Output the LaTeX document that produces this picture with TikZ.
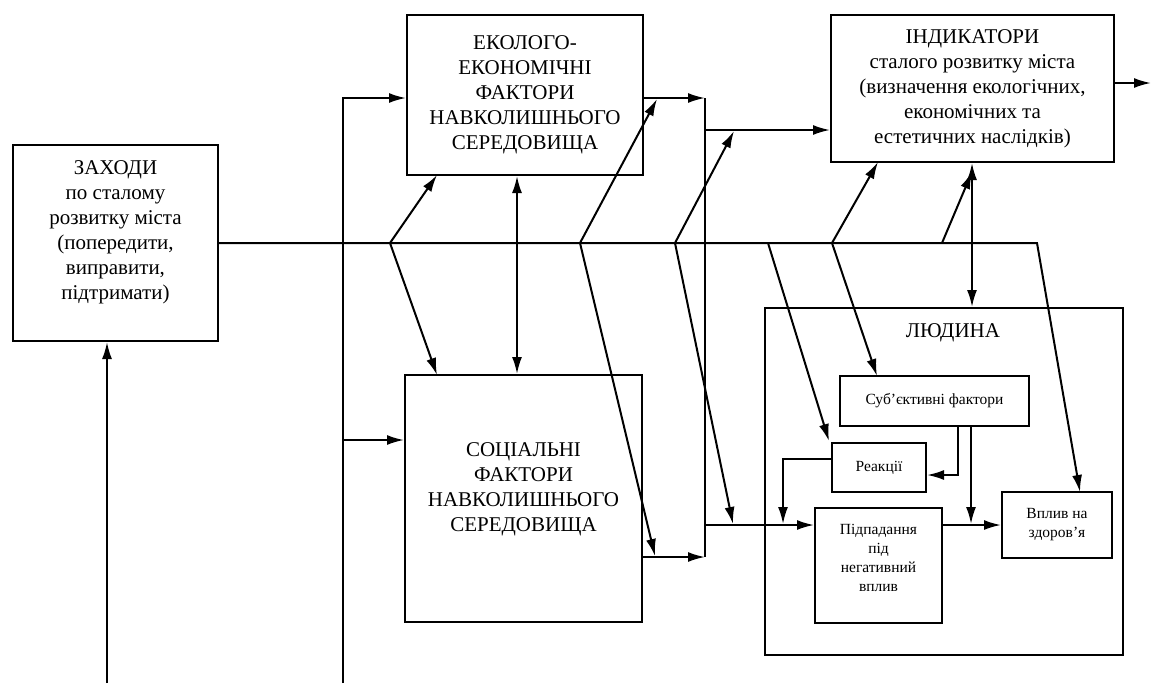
\documentclass[tikz,border=0pt]{standalone}
\usepackage{fontspec}
\setmainfont{Liberation Serif}
\usetikzlibrary{arrows.meta}
\begin{document}
\begin{tikzpicture}[x=1pt,y=-1pt,
  box/.style={draw, line width=2pt, inner sep=0pt, align=center},
  bigt/.style={font=\fontsize{21}{25}\selectfont, align=center, inner sep=0pt},
  smallt/.style={font=\fontsize{15.5}{19}\selectfont, align=center, inner sep=0pt},
  ln/.style={line width=2pt},
  arr/.style={ln, -{Latex[length=17pt,width=10pt]}},
  darr/.style={ln, {Latex[length=17pt,width=10pt]}-{Latex[length=17pt,width=10pt]}}]
\useasboundingbox (0,0) rectangle (1151,683);
\fill[white] (0,0) rectangle (1151,683);
% boxes
\node[box, minimum width=205pt, minimum height=196pt] (zak) at (115.5,243) {};
\node[bigt] (zakt) at (115.5,232) {ЗАХОДИ\\по сталому\\розвитку міста\\(попередити,\\виправити,\\підтримати)};
\node[box, bigt, draw, line width=2pt, minimum width=236pt, minimum height=160pt] (eko) at (525,95) {ЕКОЛОГО-\\ЕКОНОМІЧНІ\\ФАКТОРИ\\НАВКОЛИШНЬОГО\\СЕРЕДОВИЩА};
\node[box, minimum width=237pt, minimum height=247pt] (soc) at (523.5,498.5) {};
\node[bigt] (soct) at (523.5,489) {СОЦІАЛЬНІ\\ФАКТОРИ\\НАВКОЛИШНЬОГО\\СЕРЕДОВИЩА};
\node[box, bigt, draw, line width=2pt, minimum width=283pt, minimum height=147pt] (ind) at (972.5,88.5) {ІНДИКАТОРИ\\сталого розвитку міста\\(визначення екологічних,\\економічних та\\естетичних наслідків)};
\node[box, minimum width=358pt, minimum height=347pt] (lyud) at (944,481.5) {};
\node[bigt] (lyudt) at (953,333) {ЛЮДИНА};
\node[box, smallt, draw, line width=2pt, minimum width=189pt, minimum height=50pt] (sub) at (934.5,401) {Суб’єктивні фактори};
\node[box, smallt, draw, line width=2pt, minimum width=94pt, minimum height=49pt] (rea) at (879,467.5) {Реакції};
\node[box, minimum width=127pt, minimum height=115pt] (pid) at (878.5,565.5) {};
\node[smallt] (pidt) at (878.5,558) {Підпадання\\під\\негативний\\вплив};
\node[box, smallt, draw, line width=2pt, minimum width=110pt, minimum height=66pt] (vpl) at (1057,525) {Вплив на\\здоров’я};
% left feeds
\coordinate (b1) at (107,683);
\draw[arr] (b1) -- (b1 |- zak.south);
\coordinate (b2) at (343,683);
\coordinate (t2) at (343,98);
\draw[arr] (b2) -- (t2) -- (t2 -| eko.west);
\coordinate (s2) at (343,440);
\draw[arr] (s2) -- (s2 -| soc.west);
% main line
\coordinate (hend) at (1037,243);
\coordinate (v1) at (1080,492);
\draw[arr] (zak.east) -- (hend) -- (v1);
% forks
\coordinate (f1) at (390,243);
\coordinate (e1) at (437,175);
\coordinate (s1) at (437,375);
\draw[arr] (f1) -- (e1);
\draw[arr] (f1) -- (s1);
\coordinate (m1) at (517,0);
\draw[darr] (m1 |- eko.south) -- (m1 |- soc.north);
\coordinate (f2) at (580,243);
\coordinate (e2) at (657,99);
\coordinate (s2b) at (655,556);
\draw[arr] (f2) -- (e2);
\draw[arr] (f2) -- (s2b);
\coordinate (f3) at (675,243);
\coordinate (e3) at (734,131);
\coordinate (s3) at (733,524);
\draw[arr] (f3) -- (e3);
\draw[arr] (f3) -- (s3);
\coordinate (f4) at (768,243);
\coordinate (r4) at (829,441);
\draw[arr] (f4) -- (r4);
\coordinate (f5) at (832,243);
\coordinate (e5) at (878,162);
\coordinate (s5) at (877,376);
\draw[arr] (f5) -- (e5);
\draw[arr] (f5) -- (s5);
\coordinate (f6) at (942,243);
\coordinate (e6) at (972,172);
\draw[arr] (f6) -- (e6);
\coordinate (d1) at (972,0);
\draw[darr] (d1 |- ind.south) -- (d1 |- lyud.north);
% collector
\coordinate (c1) at (705,98);
\coordinate (c2) at (705,557);
\draw[arr] (c1 -| eko.east) -- (c1);
\draw[arr] (c2 -| soc.east) -- (c2);
\draw[ln] (c1) -- (c2);
\coordinate (c3) at (705,130);
\draw[arr] (c3) -- (c3 -| ind.west);
\coordinate (c4) at (705,525);
\draw[arr] (c4) -- (c4 -| pid.west);
% inside ЛЮДИНА
\coordinate (i1) at (958,475);
\draw[arr] (i1 |- sub.south) -- (i1) -- (i1 -| rea.east);
\coordinate (i2) at (971,524);
\draw[arr] (i2 |- sub.south) -- (i2);
\coordinate (i3) at (0,525);
\draw[arr] (i3 -| pid.east) -- (i3 -| vpl.west);
\coordinate (i4) at (783,459);
\coordinate (i5) at (783,524);
\draw[arr] (i4 -| rea.west) -- (i4) -- (i5);
% output
\coordinate (o1) at (1151,83);
\draw[arr] (o1 -| ind.east) -- (o1);
\end{tikzpicture}
\end{document}
